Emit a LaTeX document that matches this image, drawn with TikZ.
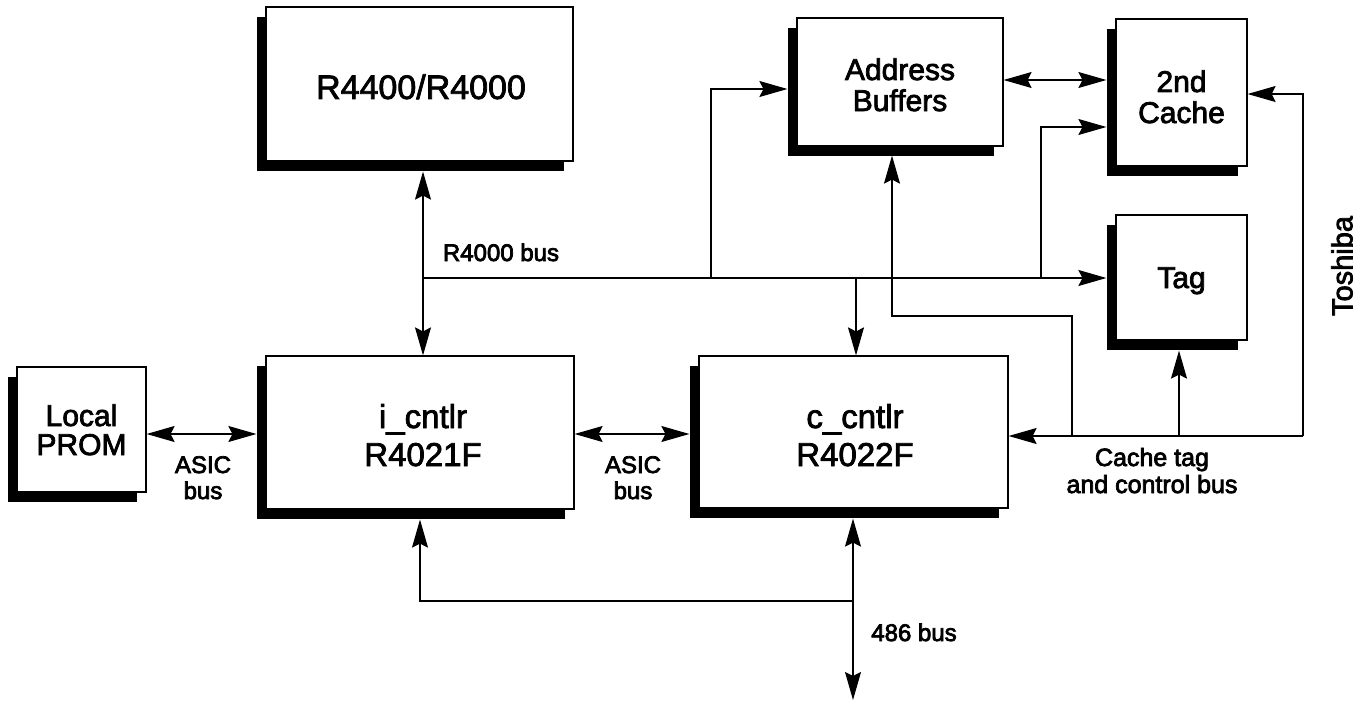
\documentclass[tikz,border=0pt]{standalone}
\usepackage{fontspec}
\setmainfont{Liberation Sans}
\newcommand\hvy[1]{\special{pdf:literal direct 2 Tr 0.75 w}#1\special{pdf:literal direct 0 Tr}}
\usetikzlibrary{shadows,arrows.meta,calc}
\begin{document}
\begin{tikzpicture}[x=1pt,y=-1pt,
  box/.style={draw=black, line width=1.2pt, fill=white, inner sep=0pt,
    drop shadow={shadow xshift=-9pt, shadow yshift=-10pt, fill=black, opacity=1, draw=none}},
  conn/.style={line width=1.2pt},
  tip/.style={-{Stealth[length=28pt,width=16pt,inset=4pt]}},
  dbl/.style={{Stealth[length=28pt,width=16pt,inset=4pt]}-{Stealth[length=28pt,width=16pt,inset=4pt]}},
  txt/.style={inner sep=0pt, anchor=base},
  lbl/.style={txt, font=\fontsize{24}{25}\selectfont},
  bigf/.style={txt, font=\fontsize{34}{36}\selectfont},
  midf/.style={txt, font=\fontsize{33}{33}\selectfont},
  smf/.style={txt, font=\fontsize{30}{30}\selectfont}
]
\fill[white] (0,0) rectangle (1362,701);
\useasboundingbox (0,0) rectangle (1362,701);

% boxes
\node[box, minimum width=307pt, minimum height=154pt] (cpu) at (419.5,84) {};
\node[box, minimum width=206pt, minimum height=128pt] (ab) at (900,82) {};
\node[box, minimum width=131pt, minimum height=147pt] (c2) at (1181.5,92.5) {};
\node[box, minimum width=131pt, minimum height=125pt] (tag) at (1181.5,277.5) {};
\node[box, minimum width=129pt, minimum height=125pt] (prom) at (81.5,429.5) {};
\node[box, minimum width=308pt, minimum height=153pt] (icn) at (420,432.5) {};
\node[box, minimum width=309pt, minimum height=152pt] (cc) at (853.5,432) {};

% box texts
\node[bigf] (cpu-t) at (421,99) {\hvy{R4400/R4000}};
\node[smf] (ab-t1) at (900,80) {\hvy{Address}};
\node[smf] (ab-t2) at (900,111) {\hvy{Buffers}};
\node[smf] (c2-t1) at (1181.5,92) {\hvy{2nd}};
\node[smf] (c2-t2) at (1181.5,123) {\hvy{Cache}};
\node[smf] (tag-t) at (1181.5,288) {\hvy{Tag}};
\node[smf] (prom-t1) at (81.5,426) {\hvy{Local}};
\node[smf] (prom-t2) at (81.5,455) {\hvy{PROM}};
\node[midf] (icn-t1) at (423,428) {\hvy{i\_cntlr}};
\node[midf] (icn-t2) at (423,466) {\hvy{R4021F}};
\node[midf] (cc-t1) at (855,428) {\hvy{c\_cntlr}};
\node[midf] (cc-t2) at (855,466) {\hvy{R4022F}};

% junction coordinates
\coordinate (jcpu) at (423,278);
\coordinate (jab) at (711,278);
\coordinate (jcc) at (856,278);
\coordinate (jc2) at (1041,278);
\coordinate (r1) at (1303,436);
\coordinate (jtag) at (1179,436);
\coordinate (jab2) at (1072,436);
\coordinate (kab) at (892,316);
\coordinate (b486) at (853,601);
\coordinate (end486) at (853,700);

% R4000 bus
\draw[conn,dbl] ($(cpu.south -| jcpu)+(0,10)$) -- (icn.north -| jcpu);
\draw[conn,tip] (jcpu) -- ($(tag.west |- jcpu)+(-9,0)$);
\draw[conn,tip] (jab) |- ($(ab.west)+(-9,7)$);
\draw[conn,tip] (jc2) |- ($(c2.west)+(-9,34.5)$);
\draw[conn,tip] (jcc) -- (cc.north -| jcc);
\draw[conn,dbl] ($(ab.east)+(0,-2)$) -- ($(c2.west)+(-9,-12.5)$);

% cache tag and control bus
\draw[conn,tip] (r1) -- (cc.east |- r1);
\draw[conn,tip] (r1) |- ($(c2.east)+(0,1.5)$);
\draw[conn,tip] (jtag) -- ($(tag.south -| jtag)+(0,10)$);
\draw[conn,tip] (jab2) |- (kab) -- ($(ab.south -| kab)+(0,9)$);

% ASIC buses
\draw[conn,dbl] ($(prom.east)+(0,4.5)$) -- ($(icn.west)+(-9,1.5)$);
\draw[conn,dbl] ($(icn.east)+(0,1.5)$) -- ($(cc.west)+(-9,2)$);

% 486 bus
\draw[conn,dbl] (end486) -- ($(cc.south -| b486)+(0,10)$);
\draw[conn,tip] (b486) -| ($(icn.south)+(0,10)$);

% labels
\node[lbl] (l1) at (501,261) {\hvy{R4000 bus}};
\node[lbl] (l2a) at (203,473) {\hvy{ASIC}};
\node[lbl] (l2b) at (203,499) {\hvy{bus}};
\node[lbl] (l3a) at (633,473) {\hvy{ASIC}};
\node[lbl] (l3b) at (633,499) {\hvy{bus}};
\node[lbl, font=\fontsize{25}{26}\selectfont] (l4a) at (1152,466) {\hvy{Cache tag}};
\node[lbl, font=\fontsize{25}{26}\selectfont] (l4b) at (1152,493) {\hvy{and control bus}};
\node[lbl] (l5) at (914,641) {\hvy{486 bus}};
\node[inner sep=0pt, font=\fontsize{29}{30}\selectfont, rotate=90] (l6) at (1342,266) {\hvy{Toshiba}};
\end{tikzpicture}
\end{document}
